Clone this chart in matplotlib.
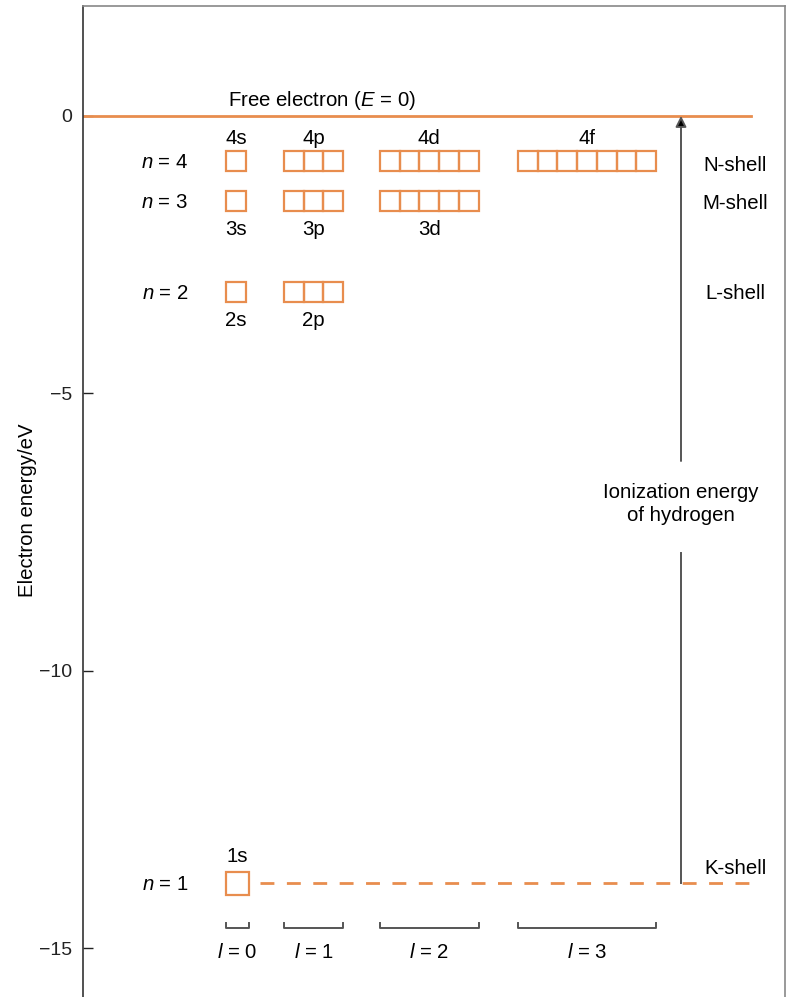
import matplotlib
matplotlib.use("Agg")
import matplotlib.pyplot as plt
from matplotlib.patches import Rectangle

plt.rcParams['font.family'] = ['Liberation Sans', 'DejaVu Sans']
plt.rcParams['mathtext.fontset'] = 'custom'
plt.rcParams['mathtext.rm'] = 'Liberation Sans'
plt.rcParams['mathtext.it'] = 'Liberation Sans:italic'
plt.rcParams['lines.scale_dashes'] = False

# energy levels (eV)
n_values = [1, 2, 3, 4]
level_energy = [-13.83, -3.18, -1.53, -0.81]
shell_names = ['K-shell', 'L-shell', 'M-shell', 'N-shell']
subshell_letters = ['s', 'p', 'd', 'f']
l_values = [0, 1, 2, 3]
y_ticks = [0, -5, -10, -15]

orange = '#E88D4E'
grey = '#555555'

# layout (x in pixel-like units of the figure)
col_x = [226, 284, 380, 518]
box_w = 19.7
box_h = 0.36
box_1s = 23
shell_x = 735
n_label_x = 165
arrow_x = 681
fs = 14.7

fig = plt.figure(figsize=(7.92, 9.97), dpi=100)
ax = fig.add_axes([83 / 792, 0, (785 - 83) / 792, 1 - 6 / 997])
ax.set_xlim(83, 785)
ax.set_ylim(-15.88, 1.98)

# free electron level
ax.plot([83, 751], [0, 0], color=orange, lw=2)
ax.text(322, 0.27, 'Free electron ($E$ = 0)', ha='center', va='center', fontsize=fs)

for n, E in zip(n_values, level_energy):
    ax.text(n_label_x, E - 0.03, f'$n$ = {n}', ha='center', va='center', fontsize=fs)
    for l in range(n):
        count = 2 * l + 1
        w = box_1s if n == 1 else box_w
        h = box_1s / 55.47 if n == 1 else box_h
        for k in range(count):
            ax.add_patch(Rectangle((col_x[l] + k * w, E - h / 2), w, h,
                                   fill=False, edgecolor=orange, lw=1.6))
        cx = col_x[l] + count * w / 2
        if n == 4:
            ly = E + 0.40
        elif n == 1:
            ly = E + 0.49
        else:
            ly = E - 0.51
        ax.text(cx, ly, f'{n}{subshell_letters[l]}', ha='center', va='center', fontsize=fs)

# shell names
shell_offset = [0.26, -0.02, -0.05, -0.09]
for name, E, off in zip(shell_names, level_energy, shell_offset):
    ax.text(shell_x, E + off, name, ha='center', va='center', fontsize=fs)

# dashed continuation of the 1s level
ax.plot([260, 755], [level_energy[0]] * 2, color=orange, lw=2, ls=(0, (10, 9)))

# ionization arrow
ax.plot([arrow_x, arrow_x], [level_energy[0], -7.88], color=grey, lw=1.4)
ax.annotate('', xy=(arrow_x, 0), xytext=(arrow_x, -6.22),
            arrowprops=dict(arrowstyle='-|>', ec=grey, fc='black', lw=1.4,
                            mutation_scale=16, shrinkA=0, shrinkB=0))
ax.text(arrow_x, -7.0, 'Ionization energy\nof hydrogen', ha='center', va='center',
        fontsize=fs, linespacing=1.25)

# l brackets
for l in l_values:
    x0 = col_x[l]
    x1 = col_x[l] + (box_1s if l == 0 else (2 * l + 1) * box_w)
    ax.plot([x0, x0, x1, x1], [-14.55, -14.64, -14.64, -14.55], color=grey, lw=1.4)
    ax.text((x0 + x1) / 2, -15.07, f'$l$ = {l}', ha='center', va='center', fontsize=fs)

ax.set_xticks([])
ax.set_yticks(y_ticks)
ax.set_yticklabels([str(t).replace('-', '\u2212') for t in y_ticks], fontsize=14)
ax.tick_params(axis='y', direction='in', length=7, width=1, pad=8, colors='#222222')
ax.spines['bottom'].set_visible(False)
ax.spines['left'].set_color('#333333')
ax.spines['top'].set_color('#888888')
ax.spines['right'].set_color('#888888')
for s in ax.spines.values():
    s.set_linewidth(1.2)

fig.text(28 / 792, 1 - 510 / 997, 'Electron energy/eV', rotation=90,
         ha='center', va='center', fontsize=fs)

fig.savefig('out.png', dpi=100)
